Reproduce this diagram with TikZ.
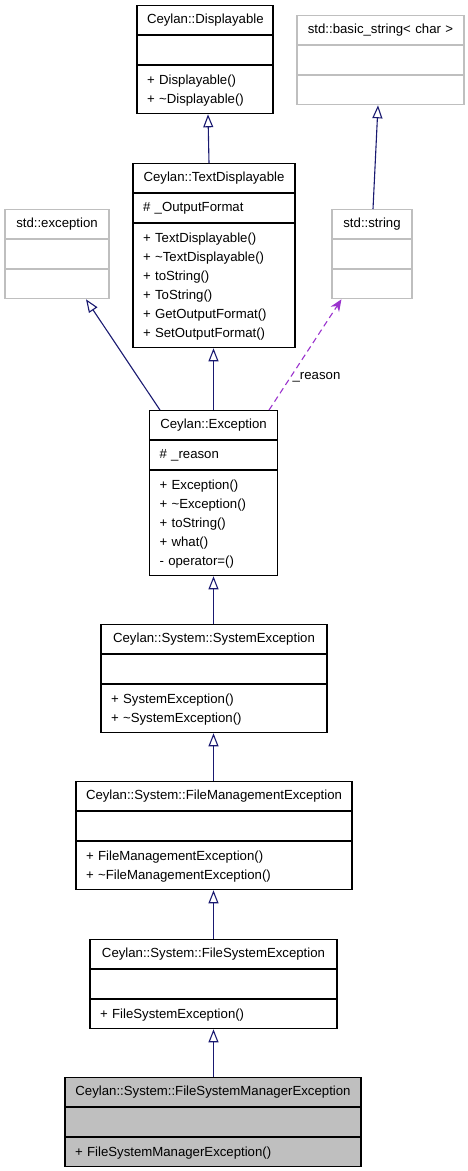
\documentclass[tikz,border=0pt]{standalone}
\usepackage{fontspec}
\setmainfont{Liberation Sans}
\usetikzlibrary{arrows.meta}

\definecolor{edgeblue}{RGB}{25,25,112}
\definecolor{usepurple}{RGB}{154,50,205}
\definecolor{stdgray}{RGB}{191,191,191}

\tikzset{
  part/.style={draw, line width=1.1pt, anchor=north, inner xsep=10pt, inner ysep=5pt,
    font=\fontsize{13.2}{19}\selectfont, align=left},
  stdcls/.style={draw=stdgray},
  selfcls/.style={fill=stdgray},
  inh/.style={draw=edgeblue, line width=1.1pt, -{Triangle[open,length=13pt,width=10pt]}},
  use/.style={draw=usepurple, line width=1.1pt, dash pattern=on 6pt off 4pt,
    -{Stealth[length=12pt,width=10pt]}}
}

% class box: title, attributes, methods
\newcommand{\umlclass}[7][]{%
  \node[part,#1,minimum width=#4,text width=#4-20,align=center] (#2) at (#3) {\strut #5};
  \node[part,#1,minimum width=#4,text width=#4-20] (#2-a) at (#2.south) {\strut #6};
  \node[part,#1,minimum width=#4,text width=#4-20] (#2-m) at (#2-a.south) {#7};
}

\begin{document}
\begin{tikzpicture}[x=1pt,y=-1pt]
  \useasboundingbox (0,0) rectangle (468,1171);

  \umlclass{disp}{205,5}{136}{Ceylan::Displayable}{}
    {\strut + Displayable()\\\strut + \textasciitilde Displayable()}
  \umlclass[stdcls]{bstr}{380.5,15}{167}{std::basic\_string< char >}{}{\strut}
  \umlclass{txtdisp}{214,163}{162}{Ceylan::TextDisplayable}{\# \_OutputFormat}
    {\strut + TextDisplayable()\\\strut + \textasciitilde TextDisplayable()\\\strut + toString()\\
     \strut + ToString()\\\strut + GetOutputFormat()\\\strut + SetOutputFormat()}
  \umlclass[stdcls]{stdexc}{57,209}{104}{std::exception}{}{\strut}
  \umlclass[stdcls]{stdstr}{372,209}{80}{std::string}{}{\strut}
  \umlclass{exc}{213.5,410}{128}{Ceylan::Exception}{\# \_reason}
    {\strut + Exception()\\\strut + \textasciitilde Exception()\\\strut + toString()\\
     \strut + what()\\\strut - operator=()}
  \umlclass{sysexc}{214,624}{226}{Ceylan::System::SystemException}{}
    {\strut + SystemException()\\\strut + \textasciitilde SystemException()}
  \umlclass{fmexc}{214,781}{276}{Ceylan::System::FileManagementException}{}
    {\strut + FileManagementException()\\\strut + \textasciitilde FileManagementException()}
  \umlclass{fsexc}{213.5,939}{247}{Ceylan::System::FileSystemException}{}
    {\strut + FileSystemException()}
  \umlclass[selfcls]{fsmexc}{213,1077}{296}{Ceylan::System::FileSystemManagerException}{}
    {\strut + FileSystemManagerException()}

  % inheritance
  \draw[inh] ([xshift=-5pt]txtdisp.north) -- ([xshift=3pt]disp-m.south);
  \draw[inh] ([xshift=1pt]stdstr.north) -- ([xshift=-2.5pt]bstr-m.south);
  \draw[inh] ([xshift=11pt]exc.north west) -- ([xshift=29pt]stdexc-m.south);
  \draw[inh] (exc.north) -- (exc.north |- txtdisp-m.south);
  \foreach \c/\p in {sysexc/exc, fmexc/sysexc, fsexc/fmexc, fsmexc/fsexc}
    \draw[inh] (\c.north -| exc.north) -- (exc.north |- \p-m.south);

  % usage
  \draw[use] ([xshift=-9pt]exc.north east) -- ([xshift=10pt]stdstr-m.south west)
    node[pos=0.3, anchor=west, xshift=-2pt, font=\fontsize{13.2}{19}\selectfont] (reason) {\_reason};
\end{tikzpicture}
\end{document}
